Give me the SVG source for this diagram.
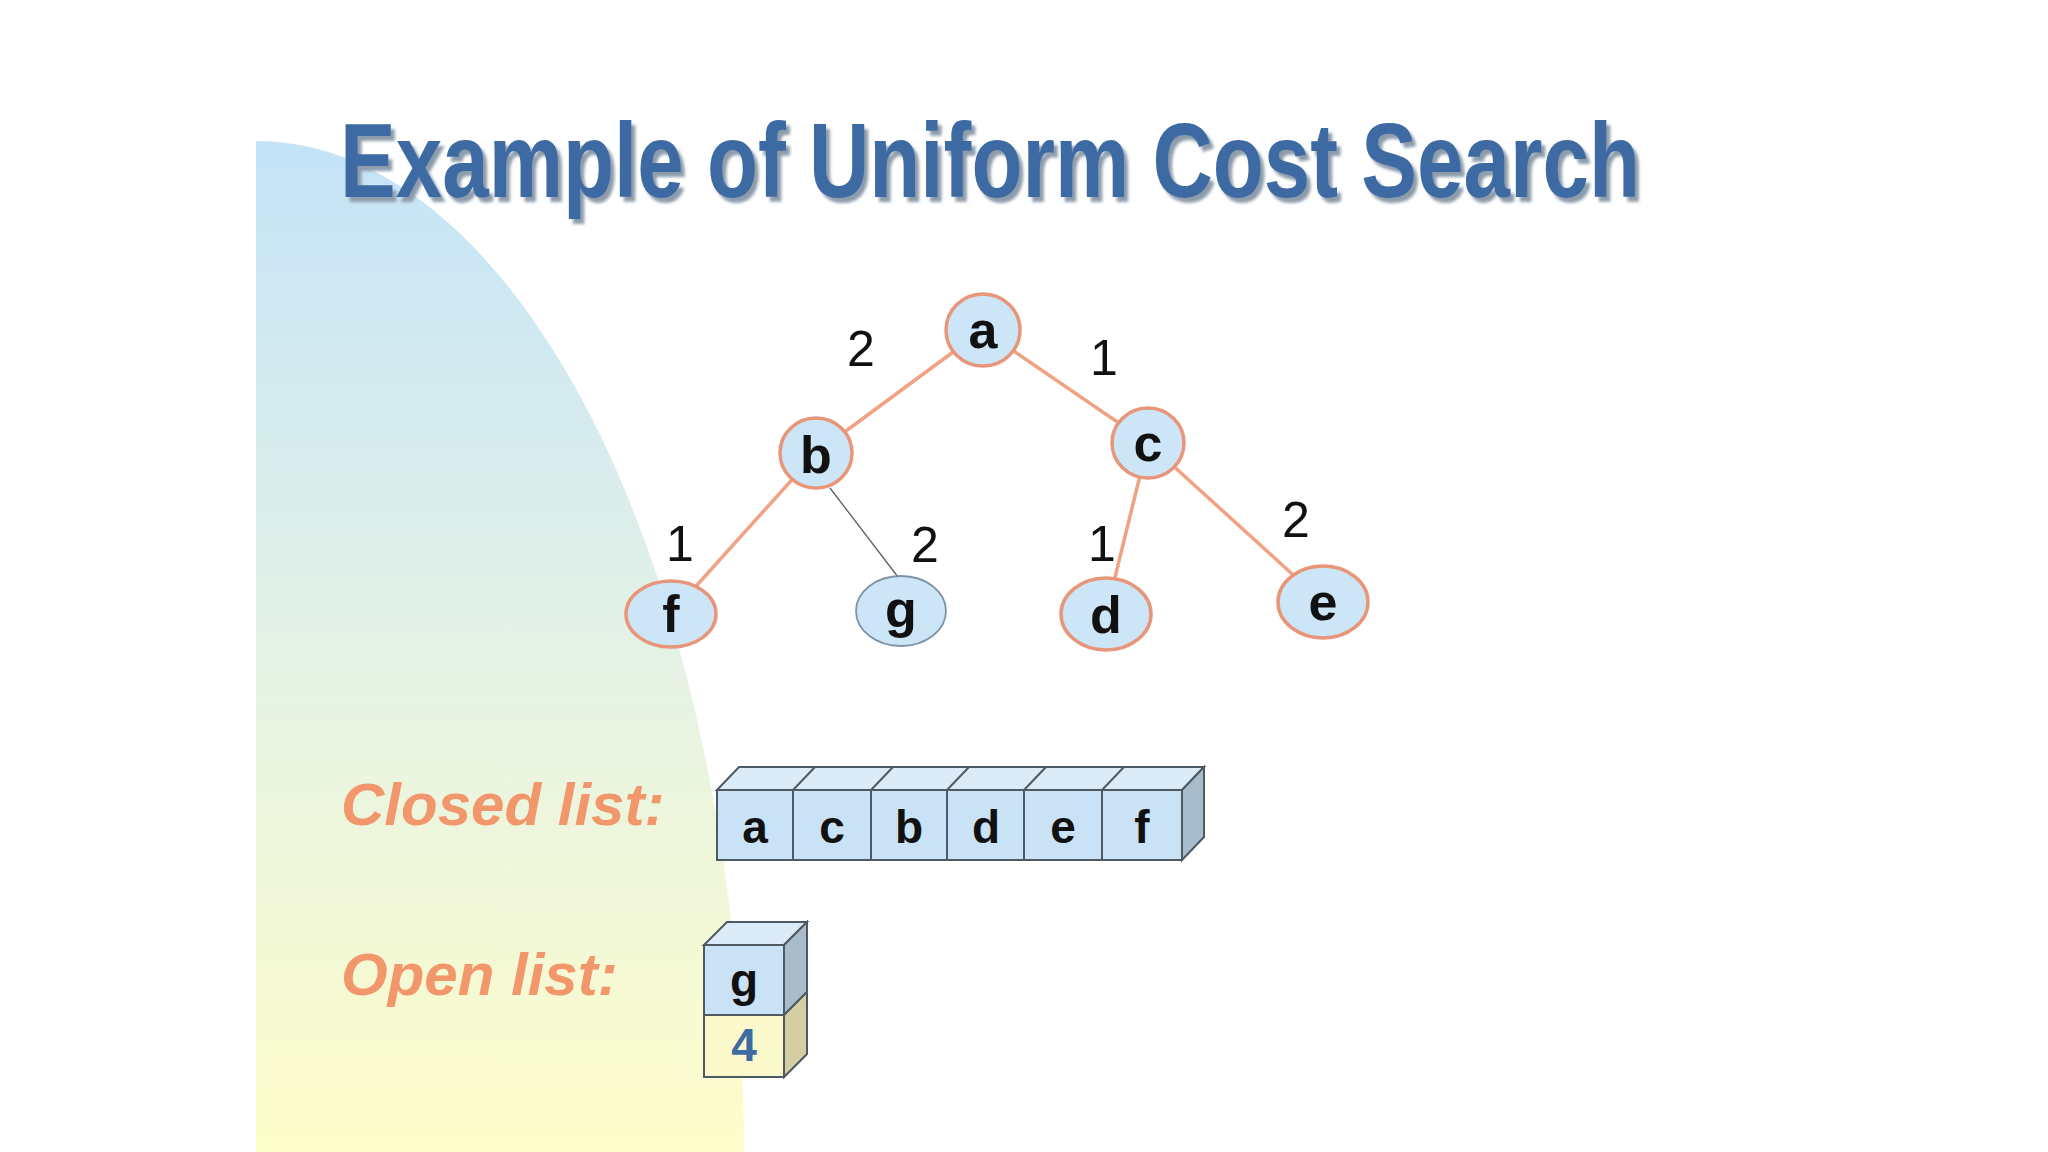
<svg xmlns="http://www.w3.org/2000/svg" width="2048" height="1152" viewBox="0 0 2048 1152">
  <defs>
    <linearGradient id="bgGrad" x1="0" y1="0" x2="0" y2="1">
      <stop offset="0" stop-color="#c4e3f8"/>
      <stop offset="0.5" stop-color="#e4f2e6"/>
      <stop offset="1" stop-color="#fefdca"/>
    </linearGradient>
    <filter id="shadow" x="-5%" y="-20%" width="110%" height="150%">
      <feDropShadow dx="4" dy="5" stdDeviation="1.5" flood-color="#8d9cab" flood-opacity="1"/>
    </filter>
  </defs>
  <style>
    .title { font-family: "Liberation Sans", Arial, sans-serif; font-weight: bold; font-size: 106px; fill: #3d6ba3; }
    .node { fill: #cde6f7; stroke: #e8957a; stroke-width: 3.5; }
    .node-g { fill: #cde6f7; stroke: #7d93a6; stroke-width: 1.8; }
    .nlabel { font-family: "Liberation Sans", Arial, sans-serif; font-weight: bold; font-size: 52px; fill: #111; text-anchor: middle; }
    .elabel { font-family: "Liberation Sans", Arial, sans-serif; font-size: 50px; fill: #111; text-anchor: middle; }
    .edge { stroke: #f0a283; stroke-width: 3.5; fill: none; }
    .edge-thin { stroke: #55606a; stroke-width: 1.3; fill: none; }
    .list-label { font-family: "Liberation Sans", Arial, sans-serif; font-weight: bold; font-style: italic; font-size: 60px; fill: #f2966b; }
    .cell-front { fill: #c9e2f5; stroke: #4d5963; stroke-width: 2; }
    .cell-top { fill: #dbecf8; stroke: #4d5963; stroke-width: 2; }
    .cell-side { fill: #a9bccb; stroke: #4d5963; stroke-width: 2; }
    .cell-front-y { fill: #fbf8cc; stroke: #4d5963; stroke-width: 2; }
    .cell-side-y { fill: #d3cfa2; stroke: #4d5963; stroke-width: 2; }
    .clabel { font-family: "Liberation Sans", Arial, sans-serif; font-weight: bold; font-size: 46px; fill: #111; text-anchor: middle; }
    .clabel-blue { font-family: "Liberation Sans", Arial, sans-serif; font-weight: bold; font-size: 46px; fill: #3d6ba3; text-anchor: middle; }
  </style>

  <rect x="0" y="0" width="2048" height="1152" fill="#ffffff"/>
  <path id="background-shape" d="M256,1152 L256,141 A488,1011 0 0 1 744,1152 Z" fill="url(#bgGrad)"/>

  <g id="title">
    <text class="title" x="340" y="197" filter="url(#shadow)" textLength="1300" lengthAdjust="spacingAndGlyphs">Example of Uniform Cost Search</text>
  </g>

  <g id="connectors">
    <line class="edge" x1="983" y1="330" x2="816" y2="453"/>
    <line class="edge" x1="983" y1="330" x2="1148" y2="443"/>
    <line class="edge" x1="816" y1="453" x2="671" y2="614"/>
    <line class="edge-thin" x1="830" y1="488" x2="898" y2="577"/>
    <line class="edge" x1="1148" y1="443" x2="1106" y2="614"/>
    <line class="edge" x1="1148" y1="443" x2="1323" y2="602"/>
  </g>

  <g id="edge-labels">
    <text class="elabel" x="861" y="366">2</text>
    <text class="elabel" x="1104" y="375">1</text>
    <text class="elabel" x="680" y="561">1</text>
    <text class="elabel" x="925" y="562">2</text>
    <text class="elabel" x="1102" y="561">1</text>
    <text class="elabel" x="1296" y="537">2</text>
  </g>

  <g id="node-a">
    <ellipse class="node" cx="983" cy="330" rx="37" ry="36"/>
    <text class="nlabel" x="983" y="348">a</text>
  </g>
  <g id="node-b">
    <ellipse class="node" cx="816" cy="453" rx="36" ry="35"/>
    <text class="nlabel" x="816" y="473">b</text>
  </g>
  <g id="node-c">
    <ellipse class="node" cx="1148" cy="443" rx="36" ry="35"/>
    <text class="nlabel" x="1148" y="461">c</text>
  </g>
  <g id="node-f">
    <ellipse class="node" cx="671" cy="614" rx="45" ry="33"/>
    <text class="nlabel" x="671" y="632">f</text>
  </g>
  <g id="node-g">
    <ellipse class="node-g" cx="901" cy="611" rx="45" ry="35"/>
    <text class="nlabel" x="901" y="627">g</text>
  </g>
  <g id="node-d">
    <ellipse class="node" cx="1106" cy="614" rx="45" ry="36"/>
    <text class="nlabel" x="1106" y="633">d</text>
  </g>
  <g id="node-e">
    <ellipse class="node" cx="1323" cy="602" rx="45" ry="36"/>
    <text class="nlabel" x="1323" y="620">e</text>
  </g>

  <g id="closed-list">
    <text class="list-label" x="341" y="825">Closed list:</text>
    <polygon class="cell-top" points="717,790 739,767 1204,767 1182,790"/>
    <polygon class="cell-side" points="1182,790 1204,767 1204,837 1182,860"/>
    <line x1="793" y1="790" x2="815" y2="767" stroke="#4d5963" stroke-width="2"/>
    <line x1="871" y1="790" x2="893" y2="767" stroke="#4d5963" stroke-width="2"/>
    <line x1="947" y1="790" x2="969" y2="767" stroke="#4d5963" stroke-width="2"/>
    <line x1="1024" y1="790" x2="1046" y2="767" stroke="#4d5963" stroke-width="2"/>
    <line x1="1102" y1="790" x2="1124" y2="767" stroke="#4d5963" stroke-width="2"/>
    <rect class="cell-front" x="717" y="790" width="76" height="70"/>
    <rect class="cell-front" x="793" y="790" width="78" height="70"/>
    <rect class="cell-front" x="871" y="790" width="76" height="70"/>
    <rect class="cell-front" x="947" y="790" width="77" height="70"/>
    <rect class="cell-front" x="1024" y="790" width="78" height="70"/>
    <rect class="cell-front" x="1102" y="790" width="80" height="70"/>
    <text class="clabel" x="755" y="843">a</text>
    <text class="clabel" x="832" y="843">c</text>
    <text class="clabel" x="909" y="843">b</text>
    <text class="clabel" x="986" y="843">d</text>
    <text class="clabel" x="1063" y="843">e</text>
    <text class="clabel" x="1142" y="843">f</text>
  </g>

  <g id="open-list">
    <text class="list-label" x="341" y="995">Open list:</text>
    <polygon class="cell-top" points="704,945 727,922 807,922 784,945"/>
    <polygon class="cell-side" points="784,945 807,922 807,992 784,1015"/>
    <polygon class="cell-side-y" points="784,1015 807,992 807,1054 784,1077"/>
    <rect class="cell-front" x="704" y="945" width="80" height="70"/>
    <rect class="cell-front-y" x="704" y="1015" width="80" height="62"/>
    <text class="clabel" x="744" y="996">g</text>
    <text class="clabel-blue" x="744" y="1061">4</text>
  </g>
</svg>
